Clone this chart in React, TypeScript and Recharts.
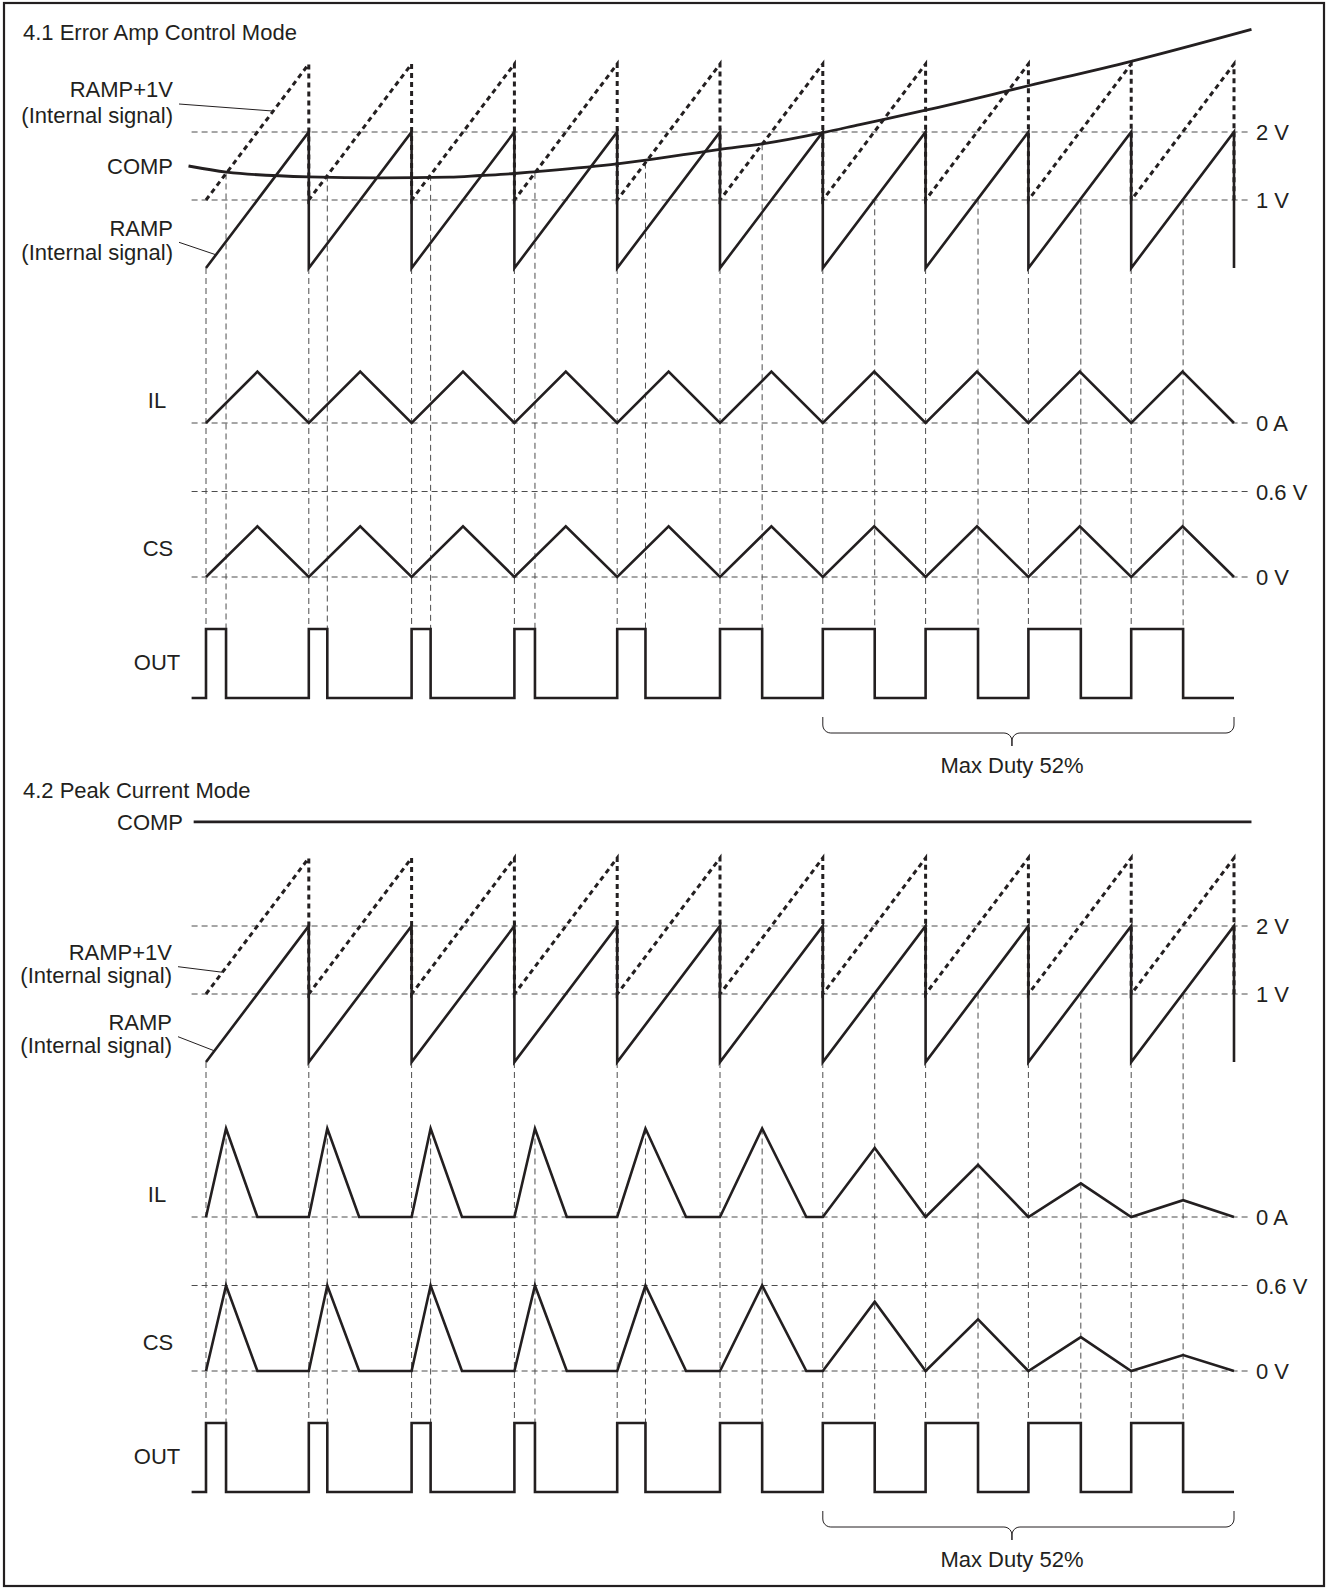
import React from "react";
import { ComposedChart, Line, XAxis, YAxis } from "recharts";

// ---------------- values ----------------
const TITLES = ["4.1 Error Amp Control Mode", "4.2 Peak Current Mode"];
const PERIODS = [0, 1, 2, 3, 4, 5, 6, 7, 8, 9];
const RAMP_MIN_V = 0;
const RAMP_MAX_V = 2;
const RAMP_OFFSET_V = 1;
// OUT on-time per period (fraction of the period)
const DUTY = [0.195, 0.18, 0.185, 0.2, 0.275, 0.41, 0.505, 0.51, 0.51, 0.505];
// what ends the on-time: the control loop, or the max duty clamp
const DUTY_LIMIT = ["loop", "loop", "loop", "loop", "loop", "loop", "max", "max", "max", "max"];
// 4.1 COMP voltage (time in periods, volts)
const COMP_EA_T = [-0.17, 0.2, 1.0, 1.7, 2.37, 2.67, 3.0, 3.2, 4.0, 4.28, 5.0, 5.41, 6.0, 6.36, 7.0, 8.0, 9.0, 10.17];
const COMP_EA_V = [1.5, 1.41, 1.34, 1.325, 1.335, 1.36, 1.39, 1.415, 1.53, 1.585, 1.745, 1.825, 1.99, 2.11, 2.32, 2.68, 3.04, 3.51];
// 4.2 COMP is flat
const COMP_PC_V = 3.53;
const COMP_PC_T = [-0.12, 10.17];
// 4.1 inductor current / current sense
const IL_EA_PEAK = 0.58;
const CS_EA_PEAK_V = 0.355;
// 4.2 inductor current / current sense per period
const IL_PC_PEAK = [1, 1, 1, 1, 1, 1, 0.78, 0.59, 0.38, 0.19];
const CS_PC_PEAK_V = [0.6, 0.6, 0.6, 0.6, 0.6, 0.6, 0.486, 0.362, 0.238, 0.112];
const IL_PC_ZERO = [0.5, 0.49, 0.49, 0.51, 0.67, 0.84, 1, 1, 1, 1];
// reference levels
const RAMP_LEVELS_V = [2, 1];
const RAMP_LEVEL_LABELS = ["2 V", "1 V"];
const IL_LEVELS = [0];
const IL_LEVEL_LABELS = ["0 A"];
const CS_LEVELS_V = [0.6, 0];
const CS_LEVEL_LABELS = ["0.6 V", "0 V"];
const MAX_DUTY_LABEL = "Max Duty 52%";
const MAX_DUTY_SPAN = [6, 10];
const MAX_DUTY_TIP_T = 7.84;

// ---------------- layout ----------------
const W = 1328;
const H = 1589;
const T0_PX = 206;
const PERIOD_PX = 102.8;
const X_DOMAIN: [number, number] = [-T0_PX / PERIOD_PX, (W - T0_PX) / PERIOD_PX];
const SECTION_DY = [0, 794];
const LANES: Record<string, { zero: number; ppu: number }> = {
  ramp: { zero: 268, ppu: 68 },
  il: { zero: 423, ppu: 88.5 },
  cs: { zero: 577, ppu: 142.5 },
  out: { zero: 698, ppu: 69 },
};
const GRID_T = [-0.14, 10.17];
const OUT_LEAD_T = -0.14;
const INK = "#231f20";
const GRID = "#4d4d4d";
const FONT = '"Liberation Sans", Arial, Helvetica, sans-serif';
const FS = 22;
const SW = 2.6;

type Pt = { t: number; v: number | null };

const lane = (s: number, name: string) => ({
  zero: LANES[name].zero + SECTION_DY[s],
  ppu: LANES[name].ppu,
});
const laneDomain = (s: number, name: string): [number, number] => {
  const l = lane(s, name);
  return [(l.zero - H) / l.ppu, l.zero / l.ppu];
};
const pageY = (s: number, name: string, v: number) => {
  const l = lane(s, name);
  return l.zero - v * l.ppu;
};
const pageX = (t: number) => T0_PX + t * PERIOD_PX;
const rampAt = (frac: number, off: number) => RAMP_MIN_V + off + (RAMP_MAX_V - RAMP_MIN_V) * frac;

// ---------------- series builders ----------------
function rampSeries(off: number): Pt[] {
  const pts: Pt[] = [{ t: PERIODS[0], v: RAMP_MIN_V + off }];
  PERIODS.forEach((k) => {
    pts.push({ t: k + 1, v: RAMP_MAX_V + off });
    pts.push({ t: k + 1, v: RAMP_MIN_V + off });
  });
  return pts;
}
function outSeries(): Pt[] {
  const pts: Pt[] = [{ t: OUT_LEAD_T, v: 0 }];
  PERIODS.forEach((k, i) => {
    pts.push({ t: k, v: 0 }, { t: k, v: 1 }, { t: k + DUTY[i], v: 1 }, { t: k + DUTY[i], v: 0 });
  });
  pts.push({ t: PERIODS.length, v: 0 });
  return pts;
}
function triSeries(peak: number): Pt[] {
  const pts: Pt[] = [{ t: 0, v: 0 }];
  PERIODS.forEach((k) => {
    pts.push({ t: k + 0.5, v: peak }, { t: k + 1, v: 0 });
  });
  return pts;
}
function pulseSeries(peaks: number[]): Pt[] {
  const pts: Pt[] = [{ t: 0, v: 0 }];
  PERIODS.forEach((k, i) => {
    pts.push({ t: k + DUTY[i], v: peaks[i] }, { t: k + IL_PC_ZERO[i], v: 0 });
    if (IL_PC_ZERO[i] < 1) pts.push({ t: k + 1, v: 0 });
  });
  return pts;
}
function verticalGrid(s: number): Pt[] {
  const pts: Pt[] = [];
  const bottom = pageY(s, "out", 1);
  PERIODS.forEach((k, i) => {
    pts.push({ t: k, v: pageY(s, "ramp", RAMP_MIN_V) }, { t: k, v: bottom }, { t: k, v: null });
    const tf = k + DUTY[i];
    let top: number;
    if (DUTY_LIMIT[i] === "max") top = pageY(s, "ramp", rampAt(DUTY[i], 0));
    else if (s === 0) top = pageY(s, "ramp", rampAt(DUTY[i], RAMP_OFFSET_V));
    else top = pageY(s, "il", IL_PC_PEAK[i]);
    pts.push({ t: tf, v: top }, { t: tf, v: bottom }, { t: tf, v: null });
  });
  return pts;
}
function bracket(s: number): Pt[] {
  const low = pageY(s, "out", 0);
  const top = low + 19;
  const mid = low + 35;
  const tip = low + 48;
  const r = 8;
  const rt = r / PERIOD_PX;
  const [t0, t1] = MAX_DUTY_SPAN;
  const pts: Pt[] = [{ t: t0, v: top }];
  const arc = (ct: number, cy: number, a0: number, a1: number) => {
    for (let j = 0; j <= 6; j++) {
      const a = a0 + ((a1 - a0) * j) / 6;
      pts.push({ t: ct + rt * Math.cos(a), v: cy + r * Math.sin(a) });
    }
  };
  arc(t0 + rt, mid - r, Math.PI, Math.PI / 2);
  arc(MAX_DUTY_TIP_T - rt, mid + r, -Math.PI / 2, 0);
  pts.push({ t: MAX_DUTY_TIP_T, v: tip });
  arc(MAX_DUTY_TIP_T + rt, mid + r, Math.PI, (3 * Math.PI) / 2);
  arc(t1 - rt, mid - r, Math.PI / 2, 0);
  pts.push({ t: t1, v: top });
  return pts;
}
function leaders(s: number): Pt[] {
  if (s === 0) {
    return [
      { t: (179 - T0_PX) / PERIOD_PX, v: 104 }, { t: 0.654, v: pageY(0, "ramp", rampAt(0.654, RAMP_OFFSET_V)) }, { t: 0.7, v: null },
      { t: (179 - T0_PX) / PERIOD_PX, v: 242.3 }, { t: 0.097, v: pageY(0, "ramp", rampAt(0.097, 0)) },
    ];
  }
  return [
    { t: (178 - T0_PX) / PERIOD_PX, v: 966.7 }, { t: 0.16, v: pageY(1, "ramp", rampAt(0.16, RAMP_OFFSET_V)) }, { t: 0.2, v: null },
    { t: (178 - T0_PX) / PERIOD_PX, v: 1036.7 }, { t: 0.082, v: pageY(1, "ramp", rampAt(0.082, 0)) },
  ];
}
const hLine = (v: number): Pt[] => [{ t: GRID_T[0], v }, { t: GRID_T[1], v }];

// ---------------- labels ----------------
type Txt = { text: string; x: number; y: number; anchor: "start" | "middle" | "end" };
function sectionTexts(s: number): Txt[] {
  const dy = SECTION_DY[s];
  const out: Txt[] = [];
  if (s === 0) {
    out.push(
      { text: TITLES[0], x: 23, y: 39.5, anchor: "start" },
      { text: "RAMP+1V", x: 173, y: 96.5, anchor: "end" },
      { text: "(Internal signal)", x: 173, y: 122.5, anchor: "end" },
      { text: "COMP", x: 173, y: 173.5, anchor: "end" },
      { text: "RAMP", x: 173, y: 236, anchor: "end" },
      { text: "(Internal signal)", x: 173, y: 259.5, anchor: "end" }
    );
  } else {
    out.push(
      { text: TITLES[1], x: 23, y: 798, anchor: "start" },
      { text: "COMP", x: 183, y: 830, anchor: "end" },
      { text: "RAMP+1V", x: 172, y: 959.5, anchor: "end" },
      { text: "(Internal signal)", x: 172, y: 982.5, anchor: "end" },
      { text: "RAMP", x: 172, y: 1029.5, anchor: "end" },
      { text: "(Internal signal)", x: 172, y: 1053, anchor: "end" }
    );
  }
  out.push(
    { text: "IL", x: 157, y: 407.5 + dy, anchor: "middle" },
    { text: "CS", x: 158, y: 556 + dy, anchor: "middle" },
    { text: "OUT", x: 157, y: 670 + dy, anchor: "middle" }
  );
  RAMP_LEVELS_V.forEach((v, i) => out.push({ text: RAMP_LEVEL_LABELS[i], x: 1256, y: pageY(s, "ramp", v) + 8, anchor: "start" }));
  IL_LEVELS.forEach((v, i) => out.push({ text: IL_LEVEL_LABELS[i], x: 1256, y: pageY(s, "il", v) + 8, anchor: "start" }));
  CS_LEVELS_V.forEach((v, i) => out.push({ text: CS_LEVEL_LABELS[i], x: 1256, y: pageY(s, "cs", v) + 8, anchor: "start" }));
  out.push({ text: MAX_DUTY_LABEL, x: pageX(MAX_DUTY_TIP_T), y: pageY(s, "out", 0) + 75, anchor: "middle" });
  return out;
}

// ---------------- chart ----------------
const common = {
  type: "linear" as const,
  dataKey: "v",
  dot: false,
  activeDot: false,
  isAnimationActive: false,
  connectNulls: false,
  legendType: "none" as const,
};

function seriesFor(s: number) {
  const els: React.ReactNode[] = [];
  const id = (n: string) => `${n}${s}`;
  // grid first
  RAMP_LEVELS_V.forEach((v, i) =>
    els.push(<Line key={`hr${s}${i}`} {...common} data={hLine(v)} yAxisId={id("ramp")} stroke={GRID} strokeWidth={1} strokeDasharray="6 4" />)
  );
  IL_LEVELS.forEach((v, i) =>
    els.push(<Line key={`hi${s}${i}`} {...common} data={hLine(v)} yAxisId={id("il")} stroke={GRID} strokeWidth={1} strokeDasharray="6 4" />)
  );
  CS_LEVELS_V.forEach((v, i) =>
    els.push(<Line key={`hc${s}${i}`} {...common} data={hLine(v)} yAxisId={id("cs")} stroke={GRID} strokeWidth={1} strokeDasharray="6 4" />)
  );
  els.push(<Line key={`vg${s}`} {...common} data={verticalGrid(s)} yAxisId="page" stroke={GRID} strokeWidth={1} strokeDasharray="6 4" />);
  els.push(<Line key={`ld${s}`} {...common} data={leaders(s)} yAxisId="page" stroke={INK} strokeWidth={1} />);
  els.push(<Line key={`br${s}`} {...common} data={bracket(s)} yAxisId="page" stroke={INK} strokeWidth={1} />);
  // signals
  els.push(<Line key={`rp1${s}`} {...common} data={rampSeries(RAMP_OFFSET_V)} yAxisId={id("ramp")} stroke={INK} strokeWidth={3} strokeDasharray="5 4" />);
  els.push(<Line key={`rp${s}`} {...common} data={rampSeries(0)} yAxisId={id("ramp")} stroke={INK} strokeWidth={SW} />);
  if (s === 0) {
    const comp: Pt[] = COMP_EA_T.map((t, i) => ({ t, v: COMP_EA_V[i] }));
    els.push(<Line key={`cp${s}`} {...common} type="monotone" data={comp} yAxisId={id("ramp")} stroke={INK} strokeWidth={2.8} />);
    els.push(<Line key={`il${s}`} {...common} data={triSeries(IL_EA_PEAK)} yAxisId={id("il")} stroke={INK} strokeWidth={SW} />);
    els.push(<Line key={`cs${s}`} {...common} data={triSeries(CS_EA_PEAK_V)} yAxisId={id("cs")} stroke={INK} strokeWidth={SW} />);
  } else {
    const comp: Pt[] = COMP_PC_T.map((t) => ({ t, v: COMP_PC_V }));
    els.push(<Line key={`cp${s}`} {...common} data={comp} yAxisId={id("ramp")} stroke={INK} strokeWidth={2.8} />);
    els.push(<Line key={`il${s}`} {...common} data={pulseSeries(IL_PC_PEAK)} yAxisId={id("il")} stroke={INK} strokeWidth={SW} />);
    els.push(<Line key={`cs${s}`} {...common} data={pulseSeries(CS_PC_PEAK_V)} yAxisId={id("cs")} stroke={INK} strokeWidth={SW} />);
  }
  els.push(<Line key={`out${s}`} {...common} data={outSeries()} yAxisId={id("out")} stroke={INK} strokeWidth={SW} />);
  return els;
}

export default function App() {
  const sections = [0, 1];
  const texts = sections.flatMap((s) => sectionTexts(s));
  return (
    <div style={{ position: "absolute", left: 0, top: 0, width: W, height: H, background: "#fff" }}>
      <ComposedChart width={W} height={H} margin={{ top: 0, right: 0, bottom: 0, left: 0 }}>
        <XAxis type="number" dataKey="t" domain={X_DOMAIN} hide allowDataOverflow />
        <YAxis yAxisId="page" type="number" domain={[0, H]} reversed hide allowDataOverflow />
        {sections.flatMap((s) =>
          Object.keys(LANES).map((name) => (
            <YAxis key={`${name}${s}`} yAxisId={`${name}${s}`} type="number" domain={laneDomain(s, name)} hide allowDataOverflow />
          ))
        )}
        {sections.flatMap((s) => seriesFor(s))}
      </ComposedChart>
      <svg width={W} height={H} style={{ position: "absolute", left: 0, top: 0, pointerEvents: "none" }}>
        <rect x={4} y={3} width={1320} height={1583} fill="none" stroke={INK} strokeWidth={2.2} />
        {texts.map((tx, i) => (
          <text key={i} x={tx.x} y={tx.y} textAnchor={tx.anchor} fontFamily={FONT} fontSize={FS} fill={INK}>
            {tx.text}
          </text>
        ))}
      </svg>
    </div>
  );
}
